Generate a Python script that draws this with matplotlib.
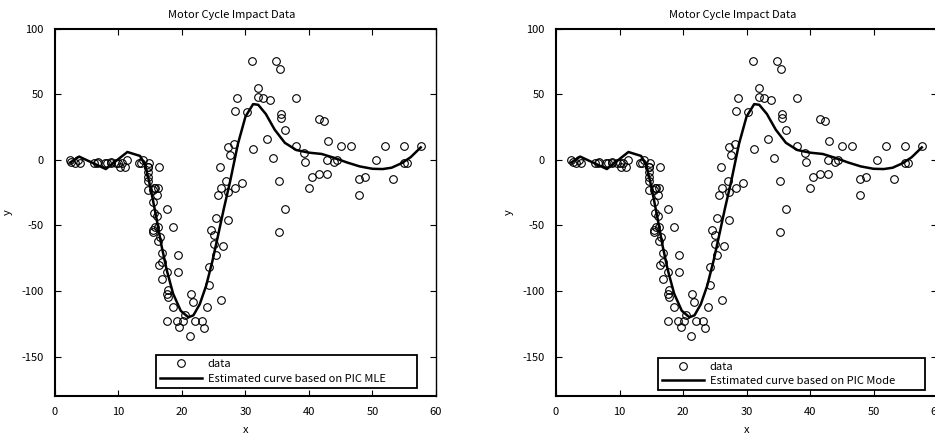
import matplotlib
matplotlib.use("Agg")
import matplotlib.pyplot as plt

# mcycle data (time in ms, head acceleration in g)
times = [2.4, 2.6, 3.2, 3.6, 4.0, 6.2, 6.6, 6.8, 7.8, 8.2, 8.8, 8.8, 9.6, 10.0, 10.2,
         10.6, 11.0, 11.4, 13.2, 13.6, 13.8, 14.6, 14.6, 14.6, 14.6, 14.6, 14.6, 14.8,
         15.4, 15.4, 15.4, 15.4, 15.6, 15.6, 15.8, 15.8, 16.0, 16.0, 16.2, 16.2, 16.2,
         16.4, 16.4, 16.6, 16.8, 16.8, 16.8, 17.6, 17.6, 17.6, 17.6, 17.8, 17.8, 18.6,
         18.6, 19.2, 19.4, 19.4, 19.6, 20.2, 20.4, 21.2, 21.4, 21.8, 22.0, 23.2, 23.4,
         24.0, 24.2, 24.2, 24.6, 25.0, 25.0, 25.4, 25.4, 25.6, 26.0, 26.2, 26.2, 26.4,
         27.0, 27.2, 27.2, 27.2, 27.6, 28.2, 28.4, 28.4, 28.6, 29.4, 30.2, 31.0, 31.2,
         32.0, 32.0, 32.8, 33.4, 33.8, 34.4, 34.8, 35.2, 35.2, 35.4, 35.6, 35.6, 36.2,
         36.2, 38.0, 38.0, 39.2, 39.4, 40.0, 40.4, 41.6, 41.6, 42.4, 42.8, 42.8, 43.0,
         44.0, 44.4, 45.0, 46.6, 47.8, 47.8, 48.8, 50.6, 52.0, 53.2, 55.0, 55.0, 55.4,
         57.6]
accel = [0.0, -1.3, -2.7, 0.0, -2.7, -2.7, -2.7, -1.3, -2.7, -2.7, -1.3, -2.7, -2.7,
         -2.7, -5.4, -2.7, -5.4, 0.0, -2.7, -2.7, 0.0, -13.3, -5.4, -5.4, -9.3, -16.0,
         -22.8, -2.7, -22.8, -32.1, -53.5, -54.9, -40.2, -21.5, -21.5, -50.8, -42.9,
         -26.8, -21.5, -50.8, -61.7, -5.4, -80.4, -59.0, -71.0, -91.1, -77.7, -37.5,
         -85.6, -123.1, -101.9, -99.1, -104.4, -112.5, -50.8, -123.1, -85.6, -72.3,
         -127.2, -123.1, -117.9, -134.0, -101.9, -108.7, -123.1, -123.1, -128.5,
         -112.5, -95.1, -81.8, -53.5, -64.4, -57.6, -72.3, -44.3, -26.8, -5.4, -107.1,
         -21.5, -65.6, -16.0, -45.6, -24.2, 9.5, 4.0, 12.0, -21.5, 37.5, 46.9, -17.4,
         36.2, 75.0, 8.1, 54.9, 48.2, 46.9, 16.0, 45.6, 1.3, 75.0, -16.0, -54.9, 69.6,
         34.8, 32.1, -37.5, 22.8, 46.9, 10.7, 5.4, -1.3, -21.5, -13.3, 30.8, -10.7,
         29.4, 0.0, -10.7, 14.7, -1.3, 0.0, 10.7, 10.7, -26.8, -14.7, -13.3, 0.0, 10.7,
         -14.7, -2.7, 10.7, -2.7, 10.7]

# estimated curves
curve_x = [2.4, 3.8, 8.0, 11.4, 13.4, 14.2, 14.8, 15.4, 16.0, 16.8, 17.6, 18.6, 19.8,
           21.0, 21.8, 22.8, 23.8, 24.8, 25.8, 26.6, 27.6, 28.8, 30.0, 31.2, 32.0,
           33.2, 34.6, 36.2, 38.0, 40.0, 42.0, 44.0, 46.0, 48.0, 50.0, 51.6, 53.0,
           54.6, 56.0, 57.6]
curve_mle = [-2, 2.5, -7, 6, 3, -4, -16, -30, -45, -66, -84, -102, -115, -120, -118.5,
             -110, -96, -77, -55, -37, -16, 12, 33, 42.5, 42, 35, 23, 13, 7.5, 5.5,
             4.5, 1.5, -2, -5, -6.8, -7, -6, -2.5, 2, 9.5]
curve_mode = [-2, 2.5, -7, 6, 3, -4, -16, -30, -45, -66, -84, -102, -115, -120, -118.5,
              -110, -96, -77, -55, -37, -16, 12, 33, 42.5, 42, 35, 23, 13, 7.5, 5.5,
              4.5, 1.5, -2, -5, -6.8, -7, -6, -2.5, 2, 9.5]

x_ticks = [0, 10, 20, 30, 40, 50, 60]
y_ticks = [-150, -100, -50, 0, 50, 100]

plt.rcParams["font.family"] = ["Noto Sans CJK JP", "DejaVu Sans"]
plt.rcParams["axes.unicode_minus"] = False
FS = 8


def draw_panel(ax, curve_y, curve_label, legend_box):
    ax.plot(times, accel, "o", ms=5.5, mfc="none", mec="black", mew=0.8, label="data")
    ax.plot(curve_x, curve_y, "-", color="black", lw=1.8, label=curve_label)

    ax.set_xlim(0, 60)
    ax.set_ylim(-180, 100)
    ax.set_xticks(x_ticks)
    ax.set_yticks(y_ticks)
    ax.tick_params(direction="in", length=4, width=0.8, pad=8, labelsize=FS,
                   top=True, right=True)
    for side in ["left", "bottom", "top"]:
        ax.spines[side].set_linewidth(1.5)
    ax.spines["right"].set_linewidth(1.0)

    ax.set_title("Motor Cycle Impact Data", fontsize=FS, x=0.463, pad=8)
    ax.set_xlabel("x", fontsize=FS, labelpad=6)
    ax.set_ylabel("y", fontsize=FS, labelpad=6)

    leg = ax.legend(loc="lower left", bbox_to_anchor=legend_box, mode="expand",
                    borderaxespad=0, fontsize=FS, fancybox=False, framealpha=1,
                    edgecolor="black", handlelength=3.8, handletextpad=0.5,
                    labelspacing=0.4, borderpad=0.35, numpoints=1)
    leg.get_frame().set_linewidth(1.3)


def main():
    fig = plt.figure(figsize=(9.35, 4.38), dpi=100)
    ax1 = fig.add_axes([0.0588, 0.0959, 0.4075, 0.8386])
    ax2 = fig.add_axes([0.5947, 0.0959, 0.4075, 0.8386])

    draw_panel(ax1, curve_mle, "Estimated curve based on PIC MLE",
               (0.265, 0.0226, 0.684, 0.11))
    draw_panel(ax2, curve_mode, "Estimated curve based on PIC Mode",
               (0.268, 0.0163, 0.701, 0.11))

    fig.savefig("out.png", dpi=100)
    plt.close(fig)


if __name__ == "__main__":
    main()
